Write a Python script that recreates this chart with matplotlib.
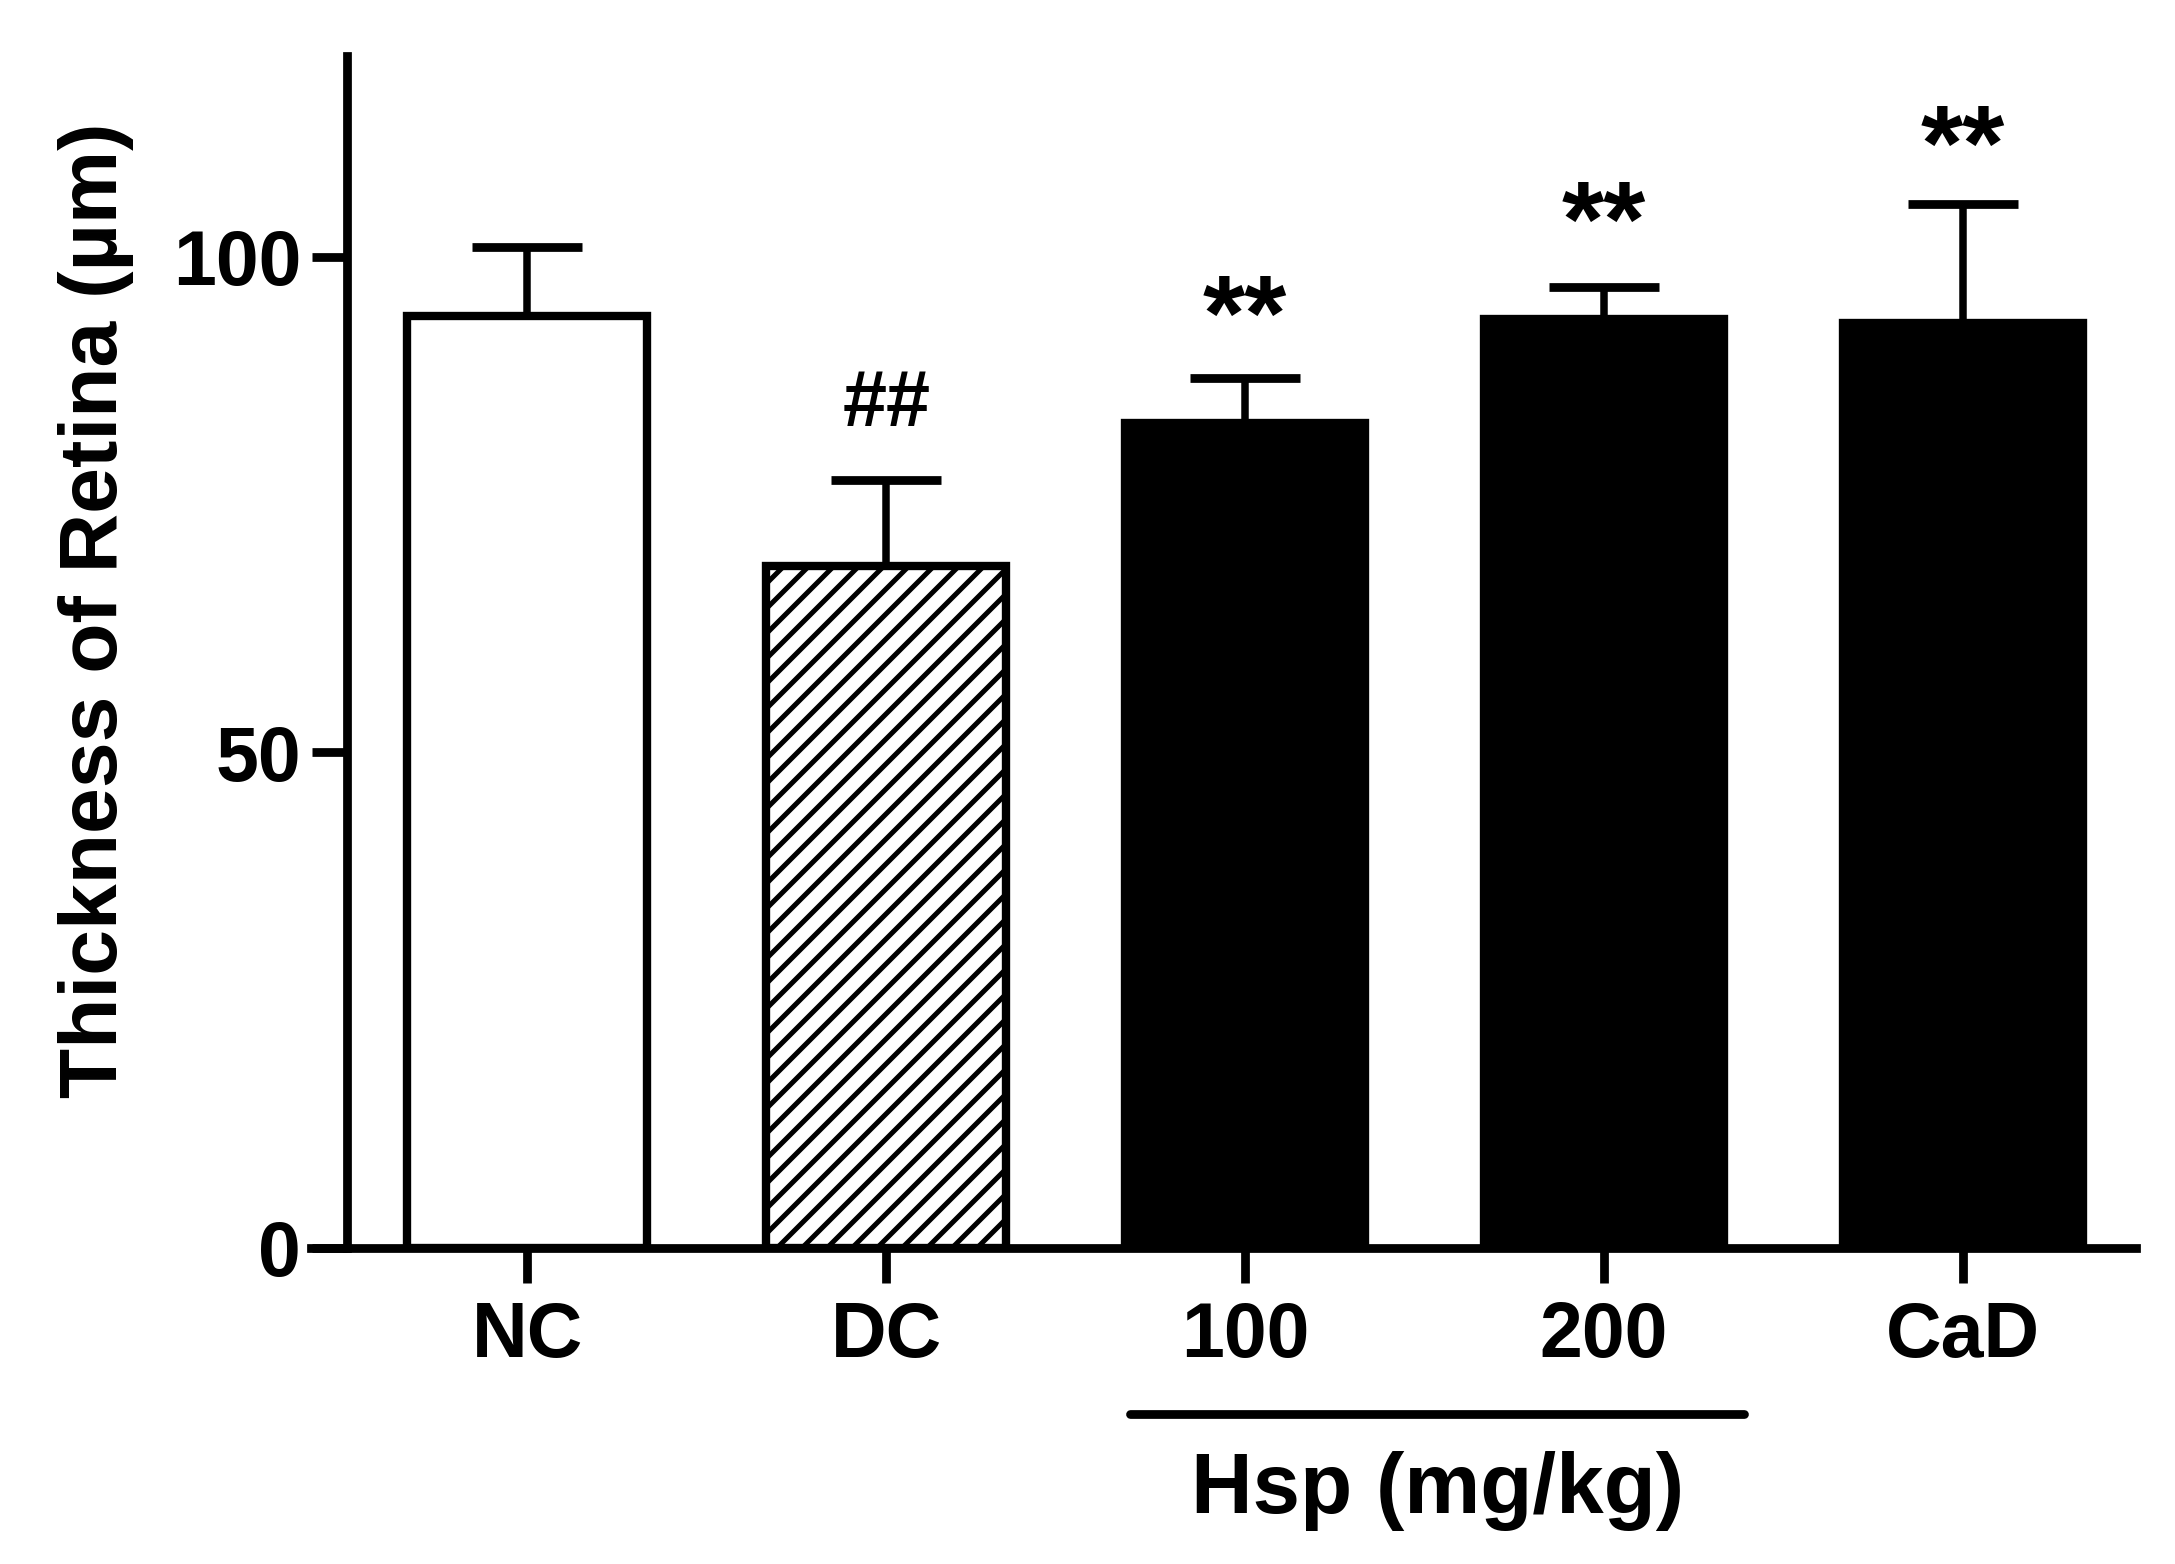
"""Retina thickness bar chart (GraphPad-style), one-sided SEM bars."""

import matplotlib
matplotlib.use("Agg")
import matplotlib.pyplot as plt

plt.rcParams["font.family"] = ["Liberation Sans", "DejaVu Sans"]
plt.rcParams["font.weight"] = "bold"
plt.rcParams["hatch.linewidth"] = 2.4

groups = ["NC", "DC", "100", "200", "CaD"]
thickness = [94.0, 68.8, 83.2, 93.7, 93.3]
sem = [7.0, 8.7, 4.6, 3.2, 12.0]
marks = ["", "##", "**", "**", "**"]
mark_y = [None, 85.0, 93.4, 102.9, 110.6]
faces = ["white", "white", "black", "black", "black"]
hatches = ["", "//", "", "", ""]
bracket_x = [1.68, 3.39]
bracket_label = "Hsp (mg/kg)"

LW = 4.2

fig = plt.figure(figsize=(14.5, 10.4267), dpi=150)
ax = fig.add_axes([0.1429, 0.2021, 0.8393, 0.7624])

x = list(range(len(groups)))
ax.bar(x, thickness, width=0.67, color=faces, edgecolor="black",
       linewidth=4.0, hatch=hatches, zorder=2)
ax.errorbar(x, thickness, yerr=[[0] * len(sem), sem], fmt="none",
            ecolor="black", elinewidth=3.6, capsize=26.6, capthick=4.2,
            zorder=1)

for xi, m, my in zip(x, marks, mark_y):
    if not m:
        continue
    fs = 38 if m.startswith("#") else 52
    ax.text(xi, my, m, ha="center", va="center", fontsize=fs,
            fontweight="bold")

# bracket under the Hsp dose groups
ax.plot(bracket_x, [-16.8, -16.8], color="black", lw=LW,
        solid_capstyle="round", clip_on=False)
ax.text(sum(bracket_x) / 2, -24.5, bracket_label, ha="center", va="center",
        fontsize=41, fontweight="bold", clip_on=False)

ax.set_xlim(-0.603, 4.483)
ax.set_ylim(0, 120.3)
ax.set_xticks(x)
ax.set_xticklabels(groups)
ax.set_yticks([0, 50, 100])

for side in ("top", "right"):
    ax.spines[side].set_visible(False)
for side in ("left", "bottom"):
    ax.spines[side].set_linewidth(LW)
ax.spines["left"].set_position(("data", -0.502))

ax.tick_params(axis="both", direction="out", length=17, width=LW,
               labelsize=37)
ax.tick_params(axis="y", pad=5)
ax.tick_params(axis="x", pad=8)
for lab in ax.get_xticklabels() + ax.get_yticklabels():
    lab.set_fontweight("bold")

ax.set_ylabel("Thickness of Retina (µm)", fontsize=39.5, fontweight="bold")
ax.yaxis.set_label_coords(-0.097, 0.535)

fig.savefig("out.png", dpi=150)
